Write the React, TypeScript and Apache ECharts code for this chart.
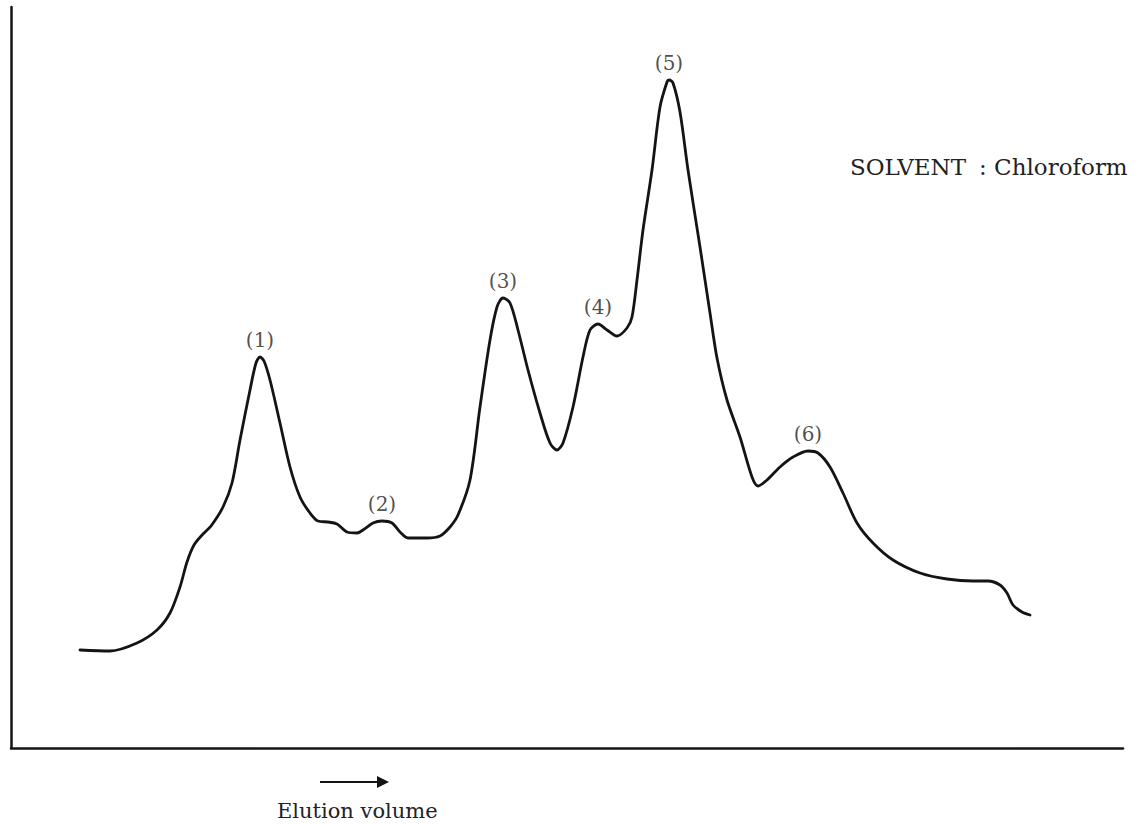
import React, { useEffect, useRef } from "react";
import * as echarts from "echarts";

// Elution volume (arbitrary units) and detector response (arbitrary units)
const elutionVolume = [
  69, 99, 126, 146, 159, 169, 176, 183, 192, 200, 212, 221, 229, 239, 245, 249, 253, 259, 269, 279,
  289, 299, 307, 317, 326, 336, 346, 352, 362, 371, 381, 389, 397, 416, 429, 439, 447, 459, 469, 479,
  486, 492, 499, 507, 517, 529, 539, 546, 552, 562, 572, 579, 587, 596, 606, 616, 621, 626, 632, 641,
  649, 656, 658, 662, 669, 677, 689, 699, 706, 716, 729, 741, 747, 756, 769, 782, 797, 807, 819, 832,
  846, 862, 882, 909, 936, 962, 977, 989, 996, 1002, 1011, 1019,
];
const response = [
  98, 97, 105, 118, 135, 161, 186, 203, 214, 222, 241, 265, 308, 358, 385, 391, 387, 368, 325, 281,
  251, 235, 227, 226, 224, 216, 215, 218, 225, 227, 225, 216, 210, 210, 212, 221, 233, 268, 341, 408,
  441, 450, 445, 418, 378, 335, 305, 298, 305, 341, 391, 418, 424, 418, 412, 420, 431, 468, 518, 578,
  641, 666, 668, 665, 636, 578, 501, 435, 390, 348, 311, 271, 262, 268, 281, 291, 297, 295, 281, 255,
  225, 205, 188, 175, 169, 167, 167, 163, 155, 143, 136, 133,
];

const peakLabels = ["(1)", "(2)", "(3)", "(4)", "(5)", "(6)"];
const peakVolume = [249, 371, 492, 587, 658, 797];
const peakResponse = [391, 227, 450, 424, 668, 297];

const xMax = 1112;
const yMax = 741;

const solventLabel = "SOLVENT";
const solventValue = ": Chloroform";
const xAxisTitle = "Elution volume";

const FONT = "DejaVu Serif";
const INK = "#141414";
const TEXT = "#222222";

export default function App() {
  const ref = useRef<HTMLDivElement>(null);

  useEffect(() => {
    document.body.style.margin = "0";
    if (!ref.current) return;
    const chart = echarts.init(ref.current, null, { renderer: "svg" });

    const curve = elutionVolume.map((x, i) => [x, response[i]]);
    const peaks = peakVolume.map((x, i) => ({
      value: [x, peakResponse[i]],
      label: { formatter: peakLabels[i] },
    }));

    chart.setOption({
      animation: false,
      backgroundColor: "#ffffff",
      grid: { left: 11, right: 17, top: 7, bottom: 76, containLabel: false },
      xAxis: {
        type: "value",
        min: 0,
        max: xMax,
        axisLine: { show: true, lineStyle: { color: INK, width: 2.5 } },
        axisTick: { show: false },
        axisLabel: { show: false },
        splitLine: { show: false },
      },
      yAxis: {
        type: "value",
        min: 0,
        max: yMax,
        axisLine: { show: true, lineStyle: { color: INK, width: 2.5 } },
        axisTick: { show: false },
        axisLabel: { show: false },
        splitLine: { show: false },
      },
      series: [
        {
          type: "line",
          data: curve,
          smooth: 0.3,
          showSymbol: false,
          lineStyle: { color: INK, width: 2.8, join: "round", cap: "round" },
          silent: true,
        },
        {
          type: "scatter",
          data: peaks,
          symbolSize: 0,
          silent: true,
          label: {
            show: true,
            position: "top",
            distance: 7,
            fontFamily: FONT,
            fontSize: 20,
            color: TEXT,
          },
        },
      ],
      graphic: [
        {
          type: "text",
          left: 850,
          top: 155,
          style: { text: solventLabel, fontFamily: FONT, fontSize: 23, fill: TEXT },
        },
        {
          type: "text",
          left: 979,
          top: 155,
          style: { text: solventValue, fontFamily: FONT, fontSize: 23, fill: TEXT },
        },
        {
          type: "line",
          shape: { x1: 320, y1: 782, x2: 380, y2: 782 },
          style: { stroke: INK, lineWidth: 2.2 },
        },
        {
          type: "polygon",
          shape: { points: [[377, 776], [389, 782], [377, 788]] },
          style: { fill: INK },
        },
        {
          type: "text",
          left: 277,
          top: 800,
          style: { text: xAxisTitle, fontFamily: FONT, fontSize: 21, fill: TEXT },
        },
      ],
    });

    return () => chart.dispose();
  }, []);

  return <div ref={ref} style={{ width: 1140, height: 824 }} />;
}
